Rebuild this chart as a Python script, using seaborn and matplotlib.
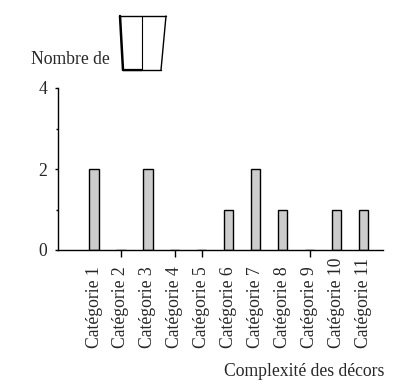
import matplotlib
matplotlib.use('Agg')
import matplotlib.pyplot as plt
from matplotlib.lines import Line2D
from matplotlib.transforms import blended_transform_factory
import pandas as pd
import seaborn as sns

categories = ['Catégorie 1', 'Catégorie 2', 'Catégorie 3', 'Catégorie 4', 'Catégorie 5', 'Catégorie 6',
              'Catégorie 7', 'Catégorie 8', 'Catégorie 9', 'Catégorie 10', 'Catégorie 11']
counts = [2, 0, 2, 0, 0, 1, 2, 1, 0, 1, 1]
y_ticks = [0, 2, 4]

W, H = 403, 381
sns.set_style('white')
plt.rcParams['font.family'] = ['Liberation Serif', 'DejaVu Serif']
FS = 12.7

df = pd.DataFrame({'categorie': categories, 'nombre': counts})

fig = plt.figure(figsize=(W / 100, H / 100), dpi=100)
ax = fig.add_axes([58 / W, 1 - 250 / H, 325 / W, 162 / H])
sns.barplot(x='categorie', y='nombre', data=df, color='#cccccc', width=0.34, saturation=1,
            edgecolor='black', linewidth=1, ax=ax)

ax.set_xlim(-1.336, 10.72)
ax.set_ylim(0, 4)
ax.set_xlabel('')
ax.set_ylabel('')
ax.set_yticks(y_ticks)
ax.set_yticks([1, 3], minor=True)
ax.tick_params(axis='y', which='major', left=True, length=2.5, width=1, color='black', pad=5, labelsize=FS)
ax.tick_params(axis='y', which='minor', left=True, length=1.5, width=1, color='black')

ax.tick_params(axis='x', which='major', bottom=False, length=0, pad=70.5, labelsize=FS)
plt.setp(ax.get_xticklabels(), rotation=90, ha='center', va='bottom')

# ticks only show on empty categories in the original
tick_tr = blended_transform_factory(ax.transData, fig.transFigure)
empty = [i for i, c in enumerate(counts) if c == 0]
for i in empty:
    fig.add_artist(Line2D([i, i], [1 - 250 / H, 1 - 257 / H], color='black', lw=1, transform=tick_tr,
                          solid_capstyle='butt', zorder=5))

for s in ['top', 'right']:
    ax.spines[s].set_visible(False)
for s in ['left', 'bottom']:
    ax.spines[s].set_linewidth(1)
    ax.spines[s].set_color('black')

fig.text(31 / W, 1 - 60 / H, 'Nombre de', ha='left', va='center', fontsize=FS)
fig.text(384 / W, 1 - 372 / H, 'Complexité des décors', ha='right', va='center', fontsize=FS)

# little cup icon next to the y label
cup = [((120, 16), (166, 16), 1.0), ((120, 16), (123, 70), 1.8), ((123, 70), (161, 70), 1.0),
       ((166, 16), (161, 70), 1.0), ((142, 16), (142, 70), 0.8)]
for a, b, lw in cup:
    fig.add_artist(Line2D([a[0] / W, b[0] / W], [1 - a[1] / H, 1 - b[1] / H], color='black', lw=lw,
                          transform=fig.transFigure))
fig.add_artist(Line2D([123 / W, 142 / W], [1 - 70 / H, 1 - 70 / H], color='black', lw=1.6,
                      transform=fig.transFigure))

fig.savefig('out.png', dpi=100)
plt.close()
